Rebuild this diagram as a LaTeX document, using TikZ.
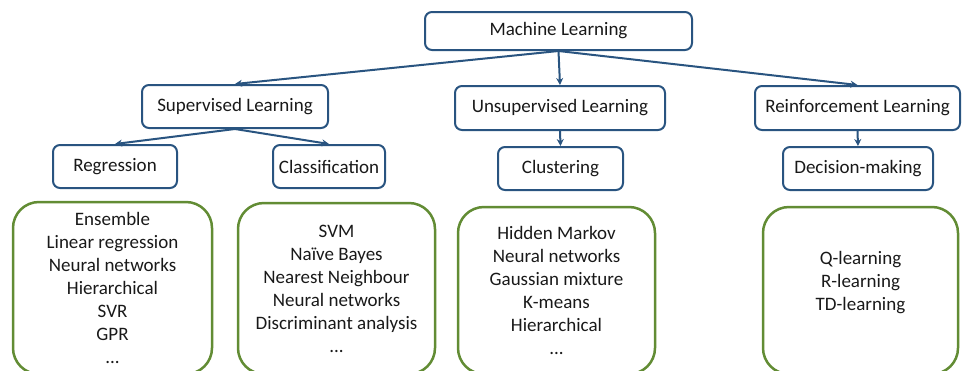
\documentclass[tikz,border=0pt]{standalone}
\usepackage{fontspec}
\setmainfont{Carlito}
\usetikzlibrary{arrows.meta}
\definecolor{mlblue}{RGB}{41,84,128}
\definecolor{mlgreen}{RGB}{98,140,52}
\definecolor{mltext}{RGB}{25,25,25}

\tikzset{
 mlbox/.style={draw=mlblue,line width=2pt,rounded corners=7pt,fill=white,inner sep=0pt,text=mltext,font=\fontsize{19}{22}\selectfont},
 listbox/.style={draw=mlgreen,line width=2.5pt,rounded corners=26pt,align=center,inner sep=0pt,text=mltext,font=\fontsize{19}{23}\selectfont},
 link/.style={draw=mlblue,line width=2pt,-{Stealth[length=7pt,width=7pt]}}
}

\begin{document}
\begin{tikzpicture}[x=1pt,y=-1pt]
 \useasboundingbox (0,0) rectangle (963,370);
 % top level
 \node[mlbox,minimum width=267pt,minimum height=38pt] (ml) at (558.5,31) {Machine Learning};
 %
 \node[mlbox,minimum width=186pt,minimum height=43pt] (sup) at (235,106.5) {Supervised Learning};
 \node[mlbox,minimum width=210pt,minimum height=44pt] (unsup) at (560,108) {Unsupervised Learning};
 \node[mlbox,minimum width=205pt,minimum height=44pt] (reinf) at (857.5,108) {Reinforcement Learning};
 %
 \node[mlbox,minimum width=124pt,minimum height=43pt] (regr) at (115,166.5) {Regression};
 \node[mlbox,minimum width=112pt,minimum height=43pt] (clas) at (329,166.5) {Classification};
 \node[mlbox,minimum width=125pt,minimum height=43pt] (clus) at (560.5,168.5) {Clustering};
 \node[mlbox,minimum width=150pt,minimum height=43pt] (dec) at (858,168.5) {Decision-making};
 % lists of methods
 \node[listbox,minimum width=199pt,minimum height=172pt] (regrlist) at (112.5,288)
  {Ensemble\\Linear regression\\Neural networks\\Hierarchical\\SVR\\GPR\\...};
 \node[listbox,minimum width=197pt,minimum height=171pt] (claslist) at (336.5,288.5)
  {SVM\\Naïve Bayes\\Nearest Neighbour\\Neural networks\\Discriminant analysis\\...};
 \node[listbox,minimum width=197pt,minimum height=167pt] (cluslist) at (556.5,290.5)
  {Hidden Markov\\Neural networks\\Gaussian mixture\\K-means\\Hierarchical\\...};
 \node[listbox,minimum width=195pt,minimum height=167pt] (declist) at (860.5,290.5)
  {Q-learning\\R-learning\\TD-learning\\[-3pt]};
 % arrows
 \foreach \A/\B in {ml/sup,ml/unsup,ml/reinf,sup/regr,sup/clas,unsup/clus,reinf/dec}
 {\draw[link] (\A.south) -- (\B.north);}
\end{tikzpicture}
\end{document}
